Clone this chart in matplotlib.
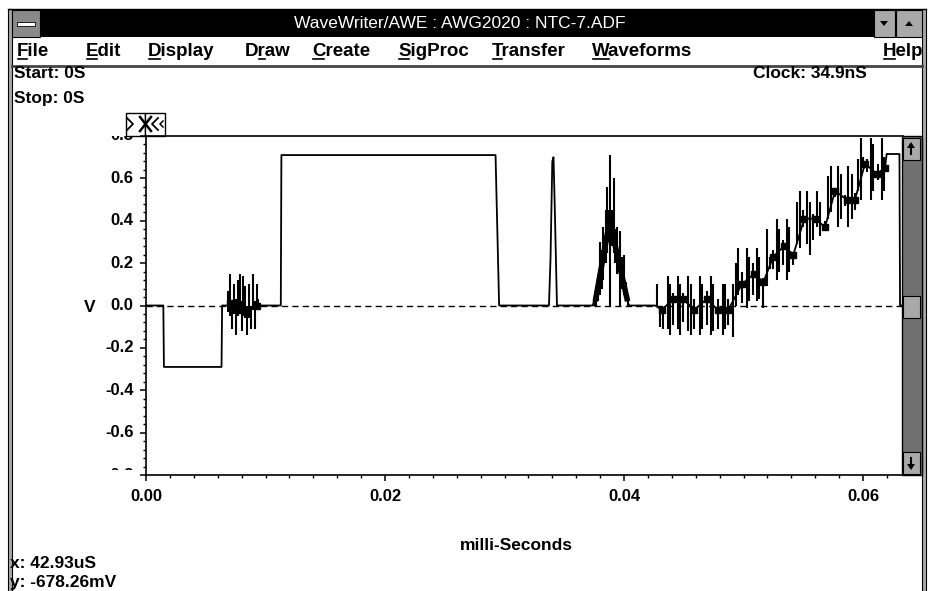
"""WaveWriter/AWE screen capture: AWG2020 waveform NTC-7.ADF."""
import matplotlib
matplotlib.use("Agg")
import matplotlib.pyplot as plt
from matplotlib.patches import Rectangle, Polygon
from matplotlib.ticker import MultipleLocator, FormatStrFormatter
from matplotlib.transforms import Bbox, TransformedBbox

plt.rcParams["font.family"] = ["Liberation Sans Narrow", "Liberation Sans", "DejaVu Sans"]
plt.rcParams["font.weight"] = "bold"

# ---- waveform data (time in ms, level in V) ----
lead_t = [0.0, 0.00145, 0.00150, 0.00632, 0.00637, 0.00686]
lead_v = [0.0, 0.0, -0.29, -0.29, 0.0, 0.0]

burst1_blob_t = [0.00707, 0.00774, 0.00833, 0.00925]
burst1_blob_v = [0.01, -0.02, -0.03, 0.0]

mid_t = [0.00940, 0.01128, 0.01133, 0.02925, 0.02955,
         0.03372, 0.03385, 0.03400, 0.03410, 0.03420, 0.03439,
         0.03740, 0.03880, 0.04040, 0.04259]
mid_v = [0.0, 0.0, 0.71, 0.71, 0.0,
         0.0, 0.22, 0.68, 0.70, 0.48, 0.0,
         0.0, 0.40, 0.0, 0.0]

stair_blob_t = [0.04316, 0.04413, 0.04496, 0.04588, 0.04692, 0.04784, 0.04873,
                0.04985, 0.05090, 0.05166,
                0.05249, 0.05339, 0.05417,
                0.05509, 0.05598, 0.05682,
                0.05766, 0.05864, 0.05933,
                0.06017, 0.06115, 0.06184]
stair_blob_v = [-0.02, 0.03, 0.03, -0.02, 0.03, -0.02, -0.02,
                0.10, 0.15, 0.11,
                0.23, 0.28, 0.24,
                0.41, 0.41, 0.37,
                0.54, 0.50, 0.50,
                0.67, 0.62, 0.65]

tail_t = [0.06198, 0.06305, 0.06310, 0.06340]
tail_v = [0.715, 0.715, 0.0, 0.0]

tri_t = [0.03760, 0.03880, 0.04030]
tri_v = [0.02, 0.40, 0.02]

# noise spikes: time, top, bottom
spike_t = [0.00689, 0.00703, 0.00722, 0.00739, 0.00753, 0.00770, 0.00787, 0.00801,
           0.00814, 0.00828, 0.00843, 0.00862, 0.00879, 0.00898, 0.00912, 0.00926, 0.00937,
           0.03752, 0.03768, 0.03785, 0.03799, 0.03813, 0.03827, 0.03849, 0.03861,
           0.03872, 0.03883, 0.03897, 0.03914, 0.03925, 0.03944, 0.03967, 0.03983,
           0.04000, 0.04017, 0.04036,
           0.04279, 0.04301, 0.04329, 0.04365, 0.04385, 0.04413, 0.04449, 0.04469,
           0.04496, 0.04538, 0.04558, 0.04589, 0.04636, 0.04655, 0.04692, 0.04728,
           0.04748, 0.04784, 0.04831, 0.04845, 0.04873, 0.04915,
           0.04935, 0.04957, 0.04985, 0.05027, 0.05046, 0.05082, 0.05116, 0.05133, 0.05166,
           0.05194, 0.05222, 0.05250, 0.05278, 0.05300, 0.05333, 0.05361, 0.05384, 0.05417,
           0.05445, 0.05473, 0.05501, 0.05529, 0.05556, 0.05584, 0.05612, 0.05640, 0.05682,
           0.05710, 0.05730, 0.05766, 0.05794, 0.05816, 0.05849, 0.05877, 0.05905, 0.05933,
           0.05961, 0.05981, 0.06003, 0.06031, 0.06064, 0.06086, 0.06128, 0.06156, 0.06176]
spike_hi = [0.07, 0.15, 0.02, 0.10, 0.03, 0.12, 0.15, 0.02,
            0.14, 0.09, 0.00, 0.10, 0.00, 0.15, 0.02, 0.10, 0.03,
            0.02, 0.06, 0.14, 0.30, 0.26, 0.37, 0.45, 0.56,
            0.45, 0.71, 0.45, 0.60, 0.36, 0.37, 0.35, 0.23,
            0.24, 0.11, 0.05,
            0.10, 0.00, -0.01, 0.14, 0.10, 0.06, 0.14, 0.10,
            0.06, 0.14, 0.10, 0.03, 0.14, 0.10, 0.07, 0.14,
            0.10, 0.03, 0.10, 0.10, 0.03, 0.10,
            0.20, 0.27, 0.16, 0.27, 0.23, 0.20, 0.27, 0.23, 0.13,
            0.36, 0.23, 0.26, 0.41, 0.36, 0.31, 0.41, 0.37, 0.25,
            0.49, 0.54, 0.45, 0.54, 0.49, 0.43, 0.54, 0.49, 0.40,
            0.61, 0.66, 0.54, 0.66, 0.62, 0.52, 0.66, 0.62, 0.53,
            0.69, 0.79, 0.70, 0.69, 0.79, 0.76, 0.67, 0.79, 0.70]
spike_lo = [-0.03, -0.05, -0.11, -0.04, -0.14, -0.05, -0.03, -0.12,
            -0.05, -0.06, -0.14, -0.06, -0.11, -0.02, -0.11, -0.02, 0.00,
            0.00, 0.00, 0.02, 0.05, 0.08, 0.12, 0.20, 0.25,
            0.30, 0.00, 0.28, 0.25, 0.20, 0.15, 0.00, 0.08,
            0.05, 0.02, 0.00,
            0.00, -0.10, -0.11, -0.11, -0.14, -0.09, -0.11, -0.14,
            -0.08, -0.12, -0.14, -0.11, -0.14, -0.11, -0.09, -0.14,
            -0.12, -0.11, -0.14, -0.11, -0.09, -0.15,
            0.00, 0.05, 0.01, -0.01, 0.02, 0.05, 0.02, 0.03, -0.01,
            0.09, 0.17, 0.17, 0.12, 0.16, 0.19, 0.12, 0.16, 0.19,
            0.29, 0.27, 0.37, 0.29, 0.24, 0.31, 0.37, 0.33, 0.37,
            0.41, 0.44, 0.51, 0.37, 0.41, 0.47, 0.37, 0.41, 0.45,
            0.54, 0.50, 0.65, 0.63, 0.50, 0.54, 0.59, 0.50, 0.54]

x_ticks = [0.00, 0.02, 0.04, 0.06]
y_ticks = [-0.8, -0.6, -0.4, -0.2, 0.0, 0.2, 0.4, 0.6, 0.8]

menu_items = ["File", "Edit", "Display", "Draw", "Create", "SigProc", "Transfer", "Waveforms", "Help"]
menu_hot = [0, 0, 0, 1, 0, 0, 0, 0, 0]
menu_x = [17, 86, 148, 245, 312, 398, 492, 592, 883]

# ---- figure in screen pixels ----
W, H = 929, 591
fig = plt.figure(figsize=(W / 100, H / 100), dpi=100)
bg = fig.add_axes([0, 0, 1, 1])
bg.set_xlim(0, W)
bg.set_ylim(H, 0)
bg.axis("off")

L, R, T, B = 145.5, 902.5, 136, 475
ax = fig.add_axes([L / W, 1 - B / H, (R - L) / W, (B - T) / H])
px_per_ms, px_per_v = 11950.0, 215.0
ax.set_xlim((L - 146) / px_per_ms, (R - 146) / px_per_ms)
ax.set_ylim((307 - B) / px_per_v, (307 - T) / px_per_v)
ax.patch.set_alpha(0)

ax.axhline(0, color="black", lw=1.0, dashes=(4.5, 3), zorder=1)
base_t = lead_t + burst1_blob_t + mid_t + stair_blob_t + tail_t
base_v = lead_v + burst1_blob_v + mid_v + stair_blob_v + tail_v
ax.plot(base_t, base_v, color="black", lw=1.3, zorder=2)
ax.vlines(spike_t, spike_lo, spike_hi, color="black", lw=1.5, zorder=2)
ax.plot(tri_t, tri_v, color="black", lw=4, solid_capstyle="butt", zorder=2)
ax.plot(burst1_blob_t + stair_blob_t, burst1_blob_v + stair_blob_v, "s",
        color="black", ms=5, zorder=3)

ax.spines["right"].set_visible(False)
for side in ("left", "bottom", "top"):
    ax.spines[side].set_linewidth(1.2)

ax.set_xticks(x_ticks)
ax.xaxis.set_minor_locator(MultipleLocator(0.002))
ax.xaxis.set_major_formatter(FormatStrFormatter("%.2f"))
ax.set_yticks(y_ticks)
ax.yaxis.set_minor_locator(MultipleLocator(0.04))
ax.tick_params(axis="both", which="major", direction="out", length=4, width=1.1)
ax.tick_params(axis="both", which="minor", direction="out", length=2.5, width=1)
ax.tick_params(axis="x", labelsize=12, pad=6)
ax.set_yticklabels([])

# y labels are clipped to the plot height, as on the screen
clip = TransformedBbox(Bbox([[0, 1 - (B - 5) / H], [L / W, 1 - T / H]]), fig.transFigure)
for v in y_ticks:
    t = ax.text(-0.016, v, f"{v:.1f}", transform=ax.get_yaxis_transform(),
                ha="right", va="center", fontsize=12, clip_on=True)
    t.set_clip_box(clip)

# ---- window chrome ----
grey, light = "#8a8a8a", "#a9a9a9"
bg.add_patch(Rectangle((8, 9), 4, 582, fc=light, ec="black", lw=0.8))
bg.add_patch(Rectangle((922, 9), 4, 582, fc=light, ec="black", lw=0.8))
bg.plot([8, 926], [9, 9], color="black", lw=1)
bg.add_patch(Rectangle((12, 10), 910, 27, fc="black", ec="none"))
bg.add_patch(Rectangle((12, 10), 28, 27, fc=grey, ec="black", lw=0.8))
bg.add_patch(Rectangle((17, 22), 18, 4, fc="white", ec="black", lw=0.6))
bg.add_patch(Rectangle((874, 10), 21, 27, fc=light, ec="black", lw=0.8))
bg.add_patch(Rectangle((896, 10), 26, 27, fc=light, ec="black", lw=0.8))
bg.add_patch(Polygon([[880, 21], [888, 21], [884, 26]], fc="black"))
bg.add_patch(Polygon([[905, 26], [913, 26], [909, 21]], fc="black"))
bg.text(460, 24, "WaveWriter/AWE : AWG2020 : NTC-7.ADF", color="white",
        ha="center", va="center", fontsize=12.5, fontweight="normal")
bg.plot([12, 922], [65.5, 65.5], color="#444444", lw=2)

renderer = fig.canvas.get_renderer()


def text_px(s, **kw):
    tmp = bg.text(0, 0, s, **kw)
    w = tmp.get_window_extent(renderer).width
    tmp.remove()
    return w


menu_kw = dict(fontsize=13.5, va="baseline", ha="left")
for label, hot, x in zip(menu_items, menu_hot, menu_x):
    bg.text(x, 56, label, **menu_kw)
    x0 = x + (text_px(label[:hot], **menu_kw) if hot else 0)
    x1 = x + text_px(label[:hot + 1], **menu_kw)
    bg.plot([x0 + 1, x1 - 1], [59, 59], color="black", lw=1.2)

info_kw = dict(fontsize=12.5, va="center")
bg.text(14, 74, "Start: 0S", ha="left", **info_kw)
bg.text(14, 98, "Stop: 0S", ha="left", **info_kw)
bg.text(867, 74, "Clock: 34.9nS", ha="right", **info_kw)
bg.text(90, 307, "V", ha="center", **info_kw)
bg.text(516, 545, "milli-Seconds", ha="center", **info_kw)
bg.text(10, 564, "x: 42.93uS", ha="left", **info_kw)
bg.text(10, 582, "y: -678.26mV", ha="left", **info_kw)

# marker handles above the plot
bg.add_patch(Rectangle((126, 113), 19, 23, fc="white", ec="black", lw=1))
bg.add_patch(Rectangle((145, 113), 20, 23, fc="white", ec="black", lw=1))
bg.plot([127, 133, 127], [118, 124, 130], color="black", lw=1.3)
bg.plot([140, 151], [117, 131], color="black", lw=1.8)
bg.plot([151, 140], [117, 131], color="black", lw=1.8)
bg.plot([158, 152, 158], [118, 124, 130], color="black", lw=1.3)
bg.plot([163, 160, 163], [121, 124, 127], color="black", lw=1.1)

# vertical scrollbar
bg.add_patch(Rectangle((902, 136), 20, 339, fc="#707070", ec="black", lw=1))
for y0 in (138, 296, 452):
    bg.add_patch(Rectangle((903.5, y0), 17, 22, fc=light, ec="black", lw=0.8))
bg.add_patch(Polygon([[907, 148], [915, 148], [911, 142]], fc="black"))
bg.plot([911, 911], [148, 154], color="black", lw=1.5)
bg.add_patch(Polygon([[907, 464], [915, 464], [911, 470]], fc="black"))
bg.plot([911, 911], [458, 464], color="black", lw=1.5)

fig.savefig("out.png", dpi=100)
